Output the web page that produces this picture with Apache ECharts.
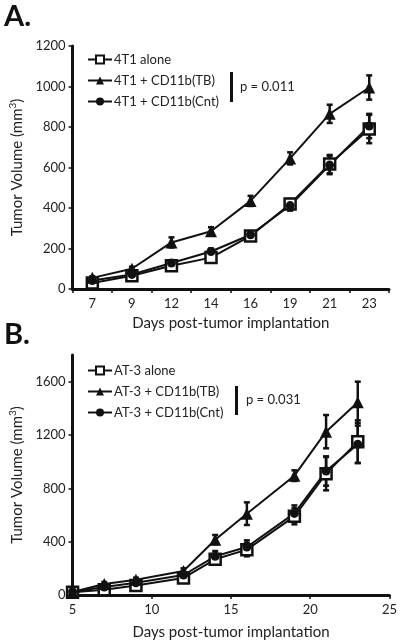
<!DOCTYPE html>
<html><head><meta charset="utf-8">
<script src="https://cdn.jsdelivr.net/npm/echarts@6/dist/echarts.min.js"></script>
<style>html,body{margin:0;padding:0;background:#fff}#c{width:400px;height:643px}</style>
</head><body><div id="c"></div>
<script>
// Panel A data
const daysA = ['7','9','12','14','16','19','21','23'];
const aAlone = [30, 65, 115, 155, 262, 420, 617, 790];
const aAloneErr = [8, 10, 12, 15, 15, 25, 45, 70];
const aTB = [55, 100, 230, 285, 435, 645, 865, 995];
const aTBErr = [8, 10, 25, 20, 25, 30, 45, 60];
const aCnt = [42, 72, 128, 185, 268, 412, 612, 805];
const aCntErr = [8, 10, 12, 15, 15, 25, 45, 60];
const yTicksA = [0, 200, 400, 600, 800, 1000, 1200];

// Panel B data
const daysB = [5, 7, 9, 12, 14, 16, 19, 21, 23];
const bAlone = [20, 40, 72, 128, 268, 340, 590, 910, 1150];
const bAloneErr = [10, 10, 15, 15, 40, 50, 60, 125, 160];
const bTB = [22, 82, 115, 180, 415, 610, 895, 1225, 1445];
const bTBErr = [10, 15, 15, 20, 35, 85, 40, 125, 155];
const bCnt = [25, 60, 92, 150, 290, 360, 612, 930, 1130];
const bCntErr = [10, 10, 15, 15, 40, 50, 60, 110, 140];
const yTicksB = [0, 400, 800, 1200, 1600];
const xTicksB = [5, 10, 15, 20, 25];

const FONT = 'Lato';
const chart = echarts.init(document.getElementById('c'), null, {renderer: 'canvas'});

function lineSeries(name, xi, yi, xs, ys, symbol, size, fill) {
  return {
    name, type: 'line', xAxisIndex: xi, yAxisIndex: yi,
    data: xs.map((x, i) => [x, ys[i]]),
    symbol, symbolSize: size, showAllSymbol: true,
    lineStyle: {color: '#111', width: 2},
    itemStyle: {color: fill, borderColor: '#111', borderWidth: fill === '#fff' ? 2.5 : 0},
    z: 3, animation: false
  };
}
function errSeries(xi, yi, xs, ys, es) {
  return {
    type: 'custom', xAxisIndex: xi, yAxisIndex: yi,
    data: xs.map((x, i) => [x, ys[i] - es[i], ys[i] + es[i]]),
    renderItem: function (params, api) {
      const lo = api.coord([api.value(0), api.value(1)]);
      const hi = api.coord([api.value(0), api.value(2)]);
      const w = 3;
      const st = {stroke: '#111', lineWidth: 2.5};
      return {type: 'group', children: [
        {type: 'line', shape: {x1: lo[0], y1: lo[1], x2: hi[0], y2: hi[1]}, style: st},
        {type: 'line', shape: {x1: lo[0]-w, y1: lo[1], x2: lo[0]+w, y2: lo[1]}, style: st},
        {type: 'line', shape: {x1: hi[0]-w, y1: hi[1], x2: hi[0]+w, y2: hi[1]}, style: st}
      ]};
    },
    z: 2, silent: true, animation: false
  };
}
const axisLine = {lineStyle: {color: '#111', width: 3}};
const tick = {show: true, length: 4, lineStyle: {color: '#111', width: 1.5}};
const lbl = {color: '#222', fontFamily: FONT, fontSize: 13, formatter: v => String(v)};
const nameStyle = {color: '#222', fontFamily: FONT, fontSize: 15,
  rich: {sup: {fontSize: 10, verticalAlign: 'top', padding: [0,0,8,0], fontFamily: FONT, color: '#222'}}};
const legText = {fontFamily: FONT, fontSize: 13, color: '#222', padding: [0,0,0,-3]};

const option = {
  backgroundColor: '#fff',
  animation: false,
  grid: [
    {left: 68, right: 11, top: 46, height: 243},
    {left: 68, right: 8, top: 355, height: 240}
  ],
  xAxis: [
    {type: 'category', gridIndex: 0, data: daysA, boundaryGap: true,
      axisLine, axisTick: tick, axisLabel: Object.assign({margin: 8}, lbl), splitLine: {show: false},
      name: 'Days post-tumor implantation', nameLocation: 'middle', nameGap: 27, nameTextStyle: nameStyle},
    {type: 'value', gridIndex: 1, min: 5, max: 25, interval: 5,
      axisLine, axisTick: tick, axisLabel: Object.assign({margin: 8}, lbl), splitLine: {show: false},
      name: 'Days post-tumor implantation', nameLocation: 'middle', nameGap: 30, nameTextStyle: nameStyle}
  ],
  yAxis: [
    {type: 'value', gridIndex: 0, min: 0, max: 1200, interval: 200,
      axisLine: Object.assign({show: true}, axisLine), axisTick: tick,
      axisLabel: Object.assign({margin: 7, customValues: yTicksA}, lbl), splitLine: {show: false},
      name: 'Tumor Volume (mm{sup|3})', nameLocation: 'middle', nameGap: 44, nameTextStyle: nameStyle},
    {type: 'value', gridIndex: 1, min: 0, max: 1800, interval: 400,
      axisLine: Object.assign({show: true}, axisLine),
      axisTick: Object.assign({customValues: yTicksB}, tick),
      axisLabel: Object.assign({margin: 7, customValues: yTicksB}, lbl), splitLine: {show: false},
      name: 'Tumor Volume (mm{sup|3})', nameLocation: 'middle', nameGap: 44, nameTextStyle: nameStyle}
  ],
  legend: [
    {orient: 'vertical', left: 82, top: 48, itemWidth: 24, itemHeight: 10, itemGap: 8,
      data: ['4T1 alone', '4T1 + CD11b(TB)', '4T1 + CD11b(Cnt)'], textStyle: legText},
    {orient: 'vertical', left: 82, top: 359, itemWidth: 24, itemHeight: 10, itemGap: 8,
      data: ['AT-3 alone', 'AT-3 + CD11b(TB)', 'AT-3 + CD11b(Cnt)'], textStyle: legText}
  ],
  series: [
    errSeries(0, 0, daysA, aAlone, aAloneErr),
    errSeries(0, 0, daysA, aTB, aTBErr),
    errSeries(0, 0, daysA, aCnt, aCntErr),
    lineSeries('4T1 alone', 0, 0, daysA, aAlone, 'rect', 11, '#fff'),
    lineSeries('4T1 + CD11b(TB)', 0, 0, daysA, aTB, 'triangle', 12, '#111'),
    lineSeries('4T1 + CD11b(Cnt)', 0, 0, daysA, aCnt, 'circle', 9, '#111'),
    errSeries(1, 1, daysB, bAlone, bAloneErr),
    errSeries(1, 1, daysB, bTB, bTBErr),
    errSeries(1, 1, daysB, bCnt, bCntErr),
    lineSeries('AT-3 alone', 1, 1, daysB, bAlone, 'rect', 11, '#fff'),
    lineSeries('AT-3 + CD11b(TB)', 1, 1, daysB, bTB, 'triangle', 12, '#111'),
    lineSeries('AT-3 + CD11b(Cnt)', 1, 1, daysB, bCnt, 'circle', 9, '#111')
  ],
  graphic: [
    {type: 'text', left: 4, top: 2, style: {text: 'A.', font: 'bold 29px ' + FONT, fill: '#111'}},
    {type: 'text', left: 4, top: 320, style: {text: 'B.', font: 'bold 29px ' + FONT, fill: '#111'}},
    {type: 'rect', shape: {x: 230, y: 72, width: 3, height: 30}, style: {fill: '#111'}},
    {type: 'text', left: 240, top: 80, style: {text: 'p = 0.011', font: '13px ' + FONT, fill: '#222'}},
    {type: 'rect', shape: {x: 235, y: 386, width: 3, height: 29}, style: {fill: '#111'}},
    {type: 'text', left: 246, top: 393, style: {text: 'p = 0.031', font: '13px ' + FONT, fill: '#222'}}
  ]
};
chart.setOption(option);
</script></body></html>
